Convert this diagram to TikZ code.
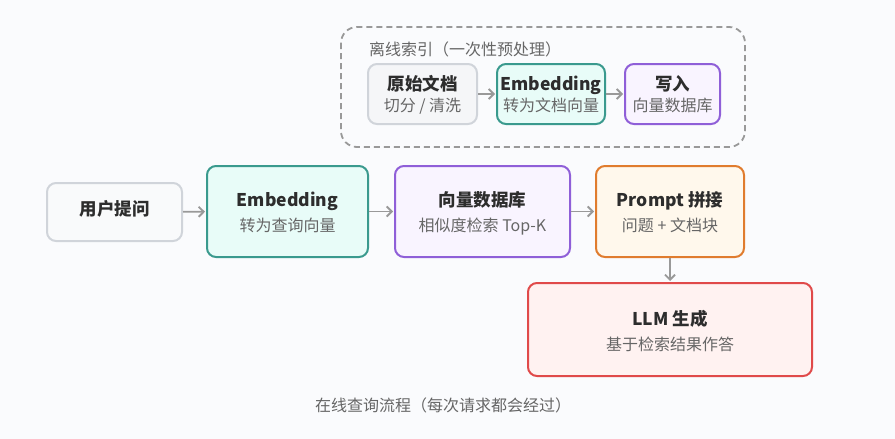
\documentclass[tikz,border=0pt]{standalone}
\usepackage{fontspec}
\setmainfont{Noto Sans CJK SC}
\usetikzlibrary{arrows.meta}
\definecolor{bg}{RGB}{250,251,253}
\definecolor{grayB}{RGB}{208,212,218}
\definecolor{grayF}{RGB}{245,246,248}
\definecolor{tealB}{RGB}{58,154,142}
\definecolor{tealF}{RGB}{232,252,248}
\definecolor{purB}{RGB}{143,95,216}
\definecolor{purF}{RGB}{249,244,255}
\definecolor{orB}{RGB}{224,124,46}
\definecolor{orF}{RGB}{255,248,236}
\definecolor{redB}{RGB}{224,74,74}
\definecolor{redF}{RGB}{255,242,241}
\definecolor{txt}{RGB}{45,45,45}
\definecolor{sub}{RGB}{102,102,102}
\definecolor{arrc}{RGB}{153,153,153}
\tikzset{
  box/.style={draw, line width=2pt, rounded corners=9pt, inner sep=0pt},
  ttl/.style={inner sep=0pt, text height=0.76em, text depth=0pt, text=txt, font=\fontsize{17.5}{18}\selectfont\bfseries},
  stl/.style={inner sep=0pt, text height=0.76em, text depth=0pt, text=sub, font=\fontsize{16}{16}\selectfont},
  lbl/.style={inner sep=0pt, text height=0.76em, text depth=0pt, text=sub, font=\fontsize{16}{16}\selectfont},
  arr/.style={draw=arrc, line width=1.8pt, -{Straight Barb[length=5pt,width=10pt,line width=1.8pt]}, shorten >=1pt},
}
\begin{document}
\begin{tikzpicture}[x=1pt,y=-1pt]
\fill[bg] (0,0) rectangle (895,439);
\useasboundingbox (0,0) rectangle (895,439);
% offline dashed group
\draw[arrc, line width=1.8pt, dash pattern=on 6pt off 4pt, rounded corners=16pt] (341,27) rectangle (745,147);
\node[lbl, anchor=west] (offl) at (369,52) {离线索引（一次性预处理）};
% top row
\node[box, draw=grayB, fill=grayF, minimum width=109pt, minimum height=60pt] (raw) at (422.5,94) {};
\node[ttl] (rawt) at ([yshift=7pt]raw.center) {原始文档};
\node[stl] (raws) at ([yshift=-14pt]raw.center) {切分 / 清洗};
\node[box, draw=tealB, fill=tealF, minimum width=108pt, minimum height=60pt] (emba) at (551,94) {};
\node[ttl] (embat) at ([yshift=7pt]emba.center) {Embedding};
\node[stl] (embas) at ([yshift=-14pt]emba.center) {转为文档向量};
\node[box, draw=purB, fill=purF, minimum width=95pt, minimum height=60pt] (wr) at (672.5,94) {};
\node[ttl] (wrt) at ([yshift=7pt]wr.center) {写入};
\node[stl] (wrs) at ([yshift=-14pt]wr.center) {向量数据库};
\draw[arr] (raw) -- (emba);
\draw[arr] (emba) -- (wr);
% online row
\node[box, draw=grayB, fill=grayF!60!white, minimum width=135pt, minimum height=58pt] (user) at (114.5,212) {};
\node[ttl] (usert) at (user.center) {用户提问};
\node[box, draw=tealB, fill=tealF, minimum width=161pt, minimum height=91pt] (embb) at (287.5,211.5) {};
\node[ttl] (embbt) at ([yshift=8.5pt]embb.center) {Embedding};
\node[stl] (embbs) at ([yshift=-16.5pt]embb.center) {转为查询向量};
\node[box, draw=purB, fill=purF, minimum width=175pt, minimum height=91pt] (vdb) at (482.5,211.5) {};
\node[ttl] (vdbt) at ([yshift=8.5pt]vdb.center) {向量数据库};
\node[stl] (vdbs) at ([yshift=-16.5pt]vdb.center) {相似度检索 Top-K};
\node[box, draw=orB, fill=orF, minimum width=148pt, minimum height=91pt] (pr) at (670,211.5) {};
\node[ttl] (prt) at ([yshift=8.5pt]pr.center) {Prompt 拼接};
\node[stl] (prs) at ([yshift=-16.5pt]pr.center) {问题 + 文档块};
\node[box, draw=redB, fill=redF, minimum width=284pt, minimum height=93pt] (llm) at (670,329.5) {};
\node[ttl] (llmt) at ([yshift=7.5pt]llm.center) {LLM 生成};
\node[stl] (llms) at ([yshift=-17.5pt]llm.center) {基于检索结果作答};
\draw[arr] (user) -- (embb);
\draw[arr] (embb) -- (vdb);
\draw[arr] (vdb) -- (pr);
\draw[arr] (pr) -- (llm);
\node[lbl] (onl) at (443,408) {在线查询流程（每次请求都会经过）};
\end{tikzpicture}
\end{document}
